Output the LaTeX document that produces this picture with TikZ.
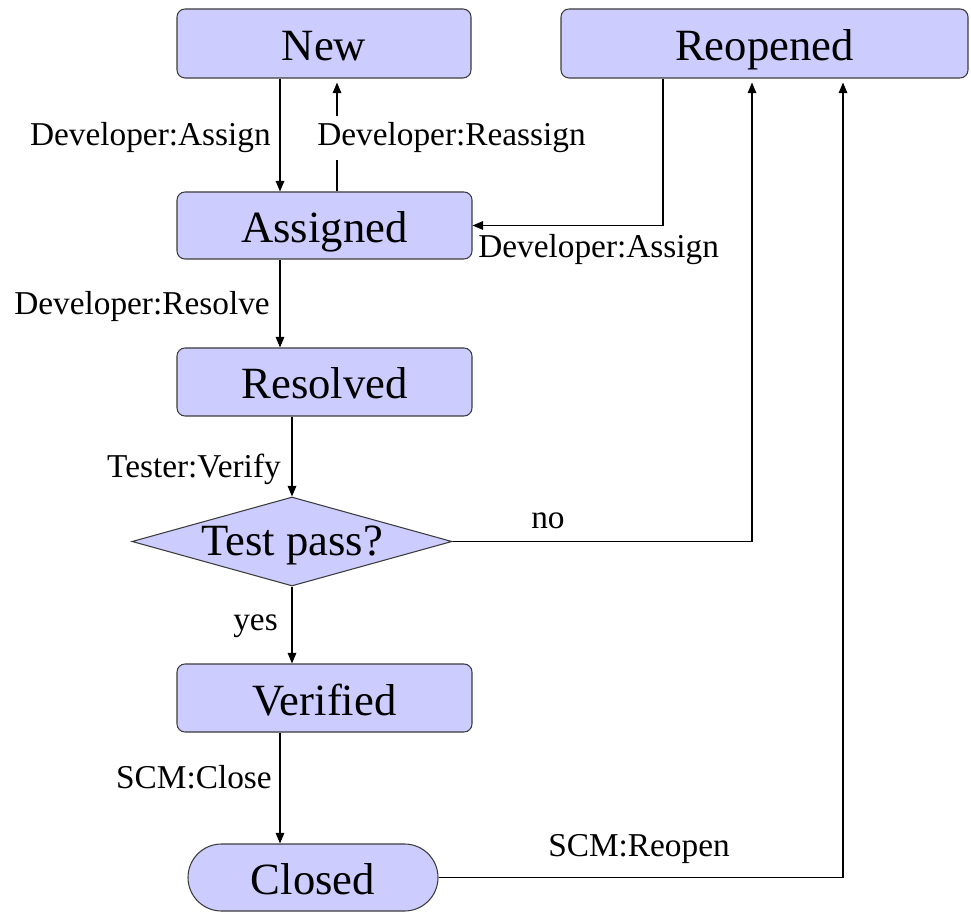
\documentclass[tikz,border=0pt]{standalone}
\usepackage{fontspec}
\setmainfont{Liberation Serif}
\usetikzlibrary{arrows.meta,shapes.geometric,shapes.misc}
\definecolor{boxfill}{RGB}{204,204,255}
\definecolor{boxline}{RGB}{60,60,60}
\begin{document}
\begin{tikzpicture}[x=0.75pt,y=-0.75pt,
  state/.style={draw=boxline, fill=boxfill, line width=0.8pt,
    font=\fontsize{33.5}{36}\selectfont, inner sep=0pt,
    text height=25.5pt, text depth=0pt},
  box/.style={state, rectangle, rounded corners=6pt},
  lab/.style={font=\fontsize{25}{28}\selectfont, inner sep=0pt},
  arr/.style={draw=black, line width=0.9pt, -{Triangle[length=8pt,width=6.5pt]}}]
\useasboundingbox (0,0) rectangle (971,912);
% states
\node[box, minimum width=220.5pt, minimum height=51.75pt] (new) at (324,43.5) {New};
\node[box, minimum width=305.25pt, minimum height=51.75pt] (reopened) at (764.5,43.5) {Reopened};
\node[box, minimum width=221.25pt, minimum height=50.25pt] (assigned) at (324.5,225.5) {Assigned};
\node[box, minimum width=221.25pt, minimum height=51pt] (resolved) at (324.5,382) {Resolved};
\node[state, diamond, aspect=3.6, minimum width=240pt, minimum height=66.75pt, text height=21pt] (test) at (292,541.5) {Test pass?};
\node[box, minimum width=221.25pt, minimum height=51pt] (verified) at (324.5,698) {Verified};
\node[state, rounded rectangle, minimum width=187.5pt, minimum height=50.25pt] (closed) at (313,877.5) {Closed};
% helper x positions
\coordinate (xa) at (280,0);
\coordinate (xb) at (337,0);
\coordinate (xc) at (663,0);
\coordinate (xd) at (752,0);
\coordinate (xe) at (843,0);
% connectors
\draw[arr] (new.south -| xa) -- (assigned.north -| xa);
\draw[arr, shorten >=3pt] (assigned.north -| xb) -- (new.south -| xb);
\draw[arr] (reopened.south -| xc) |- (assigned.east);
\draw[arr] (assigned.south -| xa) -- (resolved.north -| xa);
\draw[arr] (resolved.south -| test.north) -- (test.north);
\draw[arr, shorten >=3pt] (test.east) -| (reopened.south -| xd);
\draw[arr] (test.south) -- (verified.north -| test.south);
\draw[arr] (verified.south -| xa) -- (closed.north -| xa);
\draw[arr, shorten >=3pt] (closed.east) -| (reopened.south -| xe);
% labels
\node[lab, anchor=base east] (l1) at (271,146) {Developer:Assign};
\node[lab, anchor=base west, fill=white, inner ysep=5pt] (l2) at (317,146) {Developer:Reassign};
\node[lab, anchor=base west] (l3) at (478,258) {Developer:Assign};
\node[lab, anchor=base east] (l4) at (270,315) {Developer:Resolve};
\node[lab, anchor=base east] (l5) at (281,478) {Tester:Verify};
\node[lab, anchor=base west] (l6) at (531,528) {no};
\node[lab, anchor=base east] (l7) at (278,630) {yes};
\node[lab, anchor=base east] (l8) at (272,788) {SCM:Close};
\node[lab, anchor=base west] (l9) at (548,856) {SCM:Reopen};
\end{tikzpicture}
\end{document}
